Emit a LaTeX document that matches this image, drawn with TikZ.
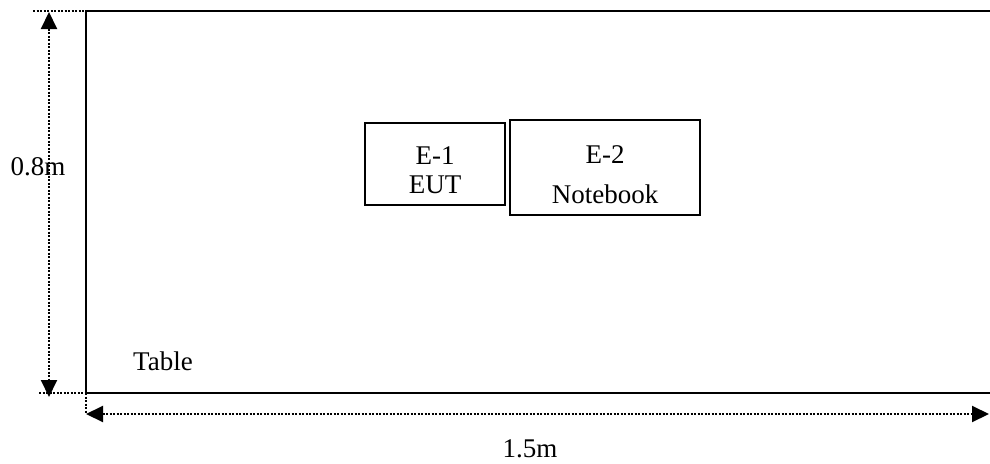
\documentclass[tikz,border=0pt]{standalone}
\usepackage{fontspec}
\setmainfont{Liberation Serif}
\usetikzlibrary{arrows.meta}
\tikzset{
  solidline/.style={line width=2pt},
  dotline/.style={line width=2pt, dash pattern=on 2pt off 1.5pt},
  dimarrow/.style={dotline, {Triangle[length=17pt,width=16pt]}-{Triangle[length=17pt,width=16pt]}},
  box/.style={draw, line width=1.8pt},
  lbl/.style={font=\fontsize{27}{31}\selectfont, inner sep=0pt, anchor=base},
}
\begin{document}
\begin{tikzpicture}[x=1pt,y=-1pt]
\useasboundingbox (0,0) rectangle (990,463);
% table outline
\coordinate (tl) at (86,11);
\coordinate (bl) at (86,393);
\coordinate (tr) at (990,11);
\coordinate (br) at (990,393);
\draw[solidline] (tr) -- (tl) -- (bl) -- (br);
% equipment boxes
\draw[box] (365,123) rectangle (505,205);
\draw[box] (510,120) rectangle (700,215);
\node[lbl] (e1) at (435,164) {E-1};
\node[lbl] (eut) at (435,193) {EUT};
\node[lbl] (e2) at (605,163) {E-2};
\node[lbl] (nb) at (605,203) {Notebook};
\node[lbl, anchor=base west] (table) at (133,370) {Table};
% dimension guides
\coordinate (gt0) at (33,11);
\coordinate (gb0) at (39,393);
\coordinate (gb1) at (108,393);
\coordinate (gx0) at (86,414);
\draw[dotline] (gt0) -- (tl);
\draw[dotline] (gb0) -- (gb1);
\draw[dotline] (bl) -- (gx0);
% vertical dimension
\coordinate (va) at (49,12);
\coordinate (vb) at (49,397);
\draw[dimarrow] (va) -- (vb);
\node[lbl] (h) at (38,175) {0.8m};
% horizontal dimension
\coordinate (ha) at (86,414);
\coordinate (hb) at (989,414);
\draw[dimarrow] (ha) -- (hb);
\node[lbl] (w) at (530,457) {1.5m};
\end{tikzpicture}
\end{document}
